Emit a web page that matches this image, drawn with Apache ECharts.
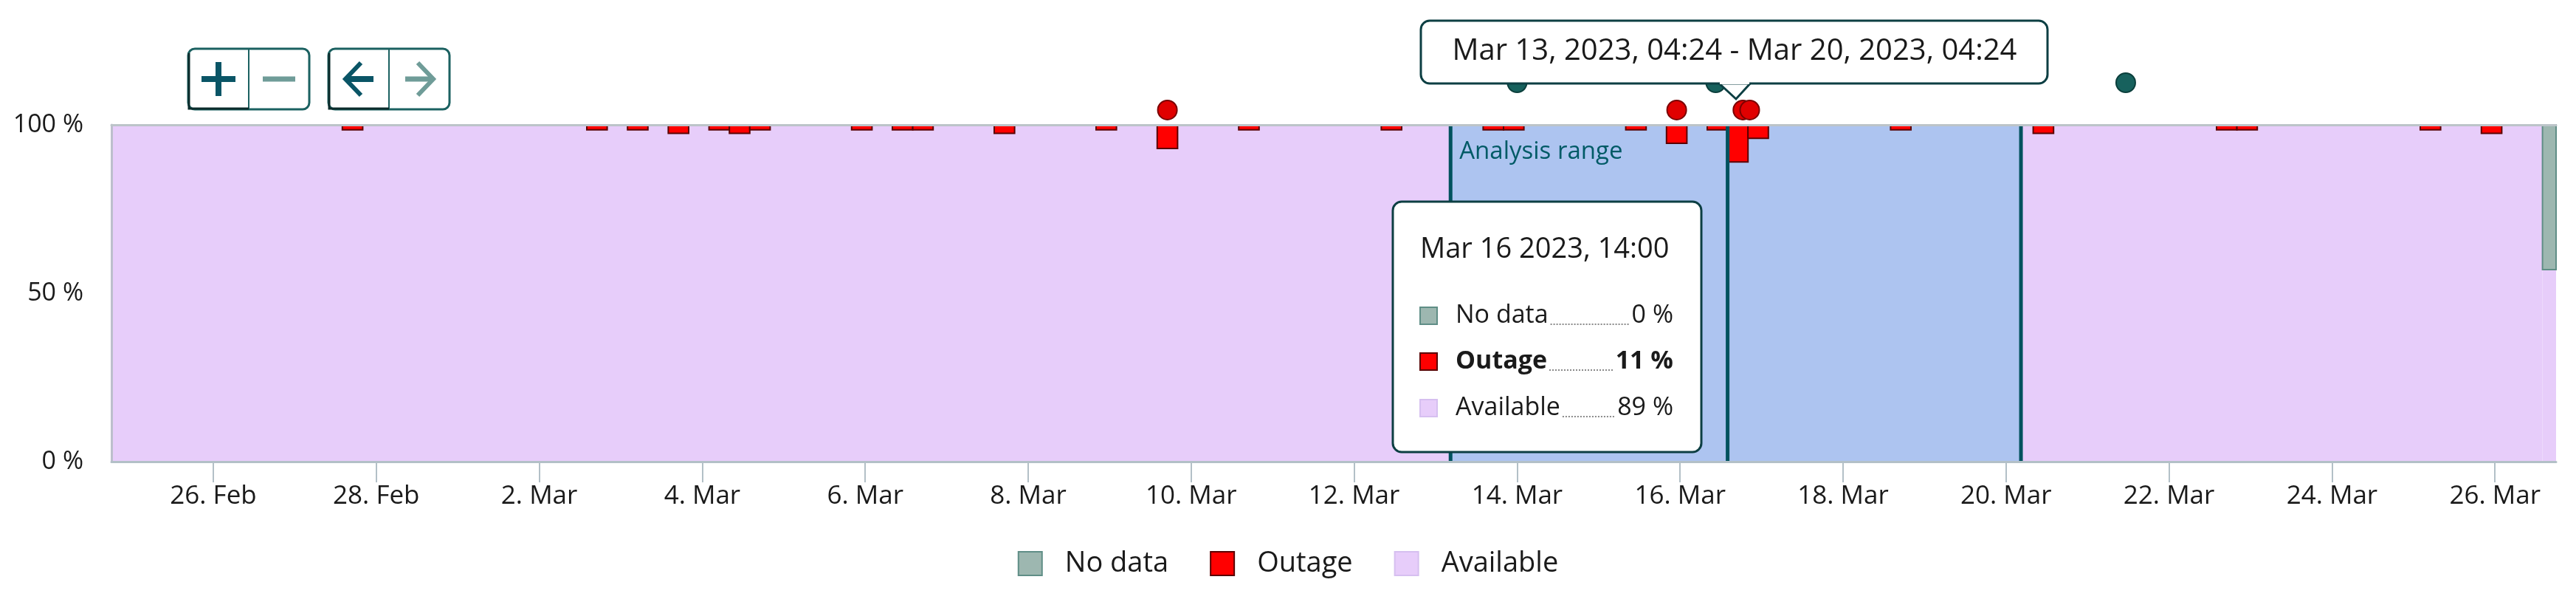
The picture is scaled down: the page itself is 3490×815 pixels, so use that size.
<!DOCTYPE html>
<html>
<head>
<meta charset="utf-8">
<script src="https://cdn.jsdelivr.net/npm/echarts@6/dist/echarts.min.js"></script>
<style>
  html, body { margin: 0; padding: 0; background: #fff; }
  #chart { width: 3490px; height: 815px; }
</style>
</head>
<body>
<div id="chart"></div>
<script>
const FONT = '"Open Sans", "Noto Sans", sans-serif'
const MONTHS = ['Jan', 'Feb', 'Mar', 'Apr', 'May', 'Jun', 'Jul', 'Aug', 'Sep', 'Oct', 'Nov', 'Dec']

const AXIS_START = '2023-02-24 18:00'
const AXIS_END = '2023-03-26 18:00'
const BUCKET_HOURS = 6

const tickDates = [
  '2023-02-26', '2023-02-28', '2023-03-02', '2023-03-04', '2023-03-06',
  '2023-03-08', '2023-03-10', '2023-03-12', '2023-03-14', '2023-03-16',
  '2023-03-18', '2023-03-20', '2023-03-22', '2023-03-24', '2023-03-26',
]
const yTicks = [0, 50, 100]

// outage per 6h bucket, % of the bucket
const outageStart = [
  '2023-02-27 14:00', '2023-03-02 14:00', '2023-03-03 02:00', '2023-03-03 14:00',
  '2023-03-04 02:00', '2023-03-04 08:00', '2023-03-04 14:00', '2023-03-05 20:00',
  '2023-03-06 08:00', '2023-03-06 14:00', '2023-03-07 14:00', '2023-03-08 20:00',
  '2023-03-09 14:00', '2023-03-10 14:00', '2023-03-12 08:00', '2023-03-13 14:00',
  '2023-03-13 20:00', '2023-03-15 08:00', '2023-03-15 20:00', '2023-03-16 08:00',
  '2023-03-16 14:00', '2023-03-16 20:00', '2023-03-18 14:00', '2023-03-20 08:00',
  '2023-03-22 14:00', '2023-03-22 20:00', '2023-03-25 02:00', '2023-03-25 20:00',
]
const outagePct = [
  1.5, 1.5, 1.5, 2.5,
  1.5, 2.5, 1.5, 1.5,
  1.5, 1.5, 2.5, 1.5,
  7, 1.5, 1.5, 1.5,
  1.5, 1.5, 5.5, 1.5,
  11, 4, 1.5, 2.5,
  1.5, 1.5, 1.5, 2.5,
]

const noDataStart = ['2023-03-26 14:00']
const noDataPct = [43]

const availableStart = ['2023-02-24 18:00', '2023-03-26 14:00']
const availableEnd = ['2023-03-26 14:00', '2023-03-26 18:00']
const availablePct = [100, 57]

// event markers above the plot
const outageEventTimes = ['2023-03-09 17:00', '2023-03-15 23:00', '2023-03-16 18:30', '2023-03-16 20:30']
const outageEventLevel = [104.4, 104.4, 104.4, 104.4]
const infoEventTimes = ['2023-03-14 00:00', '2023-03-16 10:30', '2023-03-21 11:15']
const infoEventLevel = [112.5, 112.5, 112.5]

const analysisStart = '2023-03-13 04:24'
const analysisEnd = '2023-03-20 04:24'
const hoverTime = '2023-03-16 14:00'

const tipTitle = 'Mar 16 2023, 14:00'
const tipLabels = ['No data', 'Outage', 'Available']
const tipValues = ['0 %', '11 %', '89 %']
const rangeText = 'Mar 13, 2023, 04:24 - Mar 20, 2023, 04:24'

const C = {
  available: '#e7cdfa',
  availableBorder: '#d6bff0',
  band: '#adc4f0',
  outage: '#ff0000',
  outageBorder: '#5a0000',
  noData: '#9db7b0',
  noDataBorder: '#5f8e86',
  teal: '#00525e',
  tealBox: '#0d3f43',
  iconOn: '#0a5566',
  iconOff: '#6f9c98',
  text: '#1a1a1a',
}

function ts(s) {
  if (s.length === 10) s += ' 00:00'
  return new Date(s.replace(' ', 'T') + ':00').getTime()
}

const BUCKET_MS = BUCKET_HOURS * 3600 * 1000

function clipToGrid(params, a, b) {
  const cs = params.coordSys
  return echarts.graphic.clipRectByRect(
    { x: a[0], y: a[1], width: b[0] - a[0], height: b[1] - a[1] },
    { x: cs.x, y: cs.y, width: cs.width, height: cs.height }
  )
}

function rectRenderer(fromTop, fill, stroke, lineWidth) {
  return function (params, api) {
    const v = api.value(2)
    const a = api.coord([api.value(0), fromTop ? 100 : v])
    const b = api.coord([api.value(1), fromTop ? 100 - v : 0])
    const shape = clipToGrid(params, a, b)
    if (!shape) return
    return { type: 'rect', shape, style: { fill, stroke, lineWidth } }
  }
}

function renderBand(params, api) {
  const a = api.coord([api.value(0), 100])
  const b = api.coord([api.value(1), 0])
  return {
    type: 'group',
    children: [
      { type: 'rect', shape: { x: a[0], y: a[1], width: b[0] - a[0], height: b[1] - a[1] }, style: { fill: C.band } },
      { type: 'line', shape: { x1: a[0], y1: a[1], x2: a[0], y2: b[1] }, style: { stroke: C.teal, lineWidth: 5 } },
      { type: 'line', shape: { x1: b[0], y1: a[1], x2: b[0], y2: b[1] }, style: { stroke: C.teal, lineWidth: 5 } },
      {
        type: 'text',
        style: { x: a[0] + 12, y: a[1] + 37, text: 'Analysis range', fill: '#005a66', font: '33px ' + FONT, verticalAlign: 'middle' },
      },
    ],
  }
}

function renderHover(params, api) {
  const a = api.coord([api.value(0), 100])
  const b = api.coord([api.value(0), 0])
  return { type: 'line', shape: { x1: a[0], y1: a[1], x2: b[0], y2: b[1] }, style: { stroke: C.teal, lineWidth: 5 } }
}

const outageData = outageStart.map((s, i) => [ts(s), ts(s) + BUCKET_MS, outagePct[i]])
const noDataData = noDataStart.map((s, i) => [ts(s), ts(s) + BUCKET_MS, noDataPct[i]])
const availableData = availableStart.map((s, i) => [ts(s), ts(availableEnd[i]), availablePct[i]])

// text measuring for the tooltip leaders
const measureCtx = document.createElement('canvas').getContext('2d')
function textWidth(text, font) {
  measureCtx.font = font
  return measureCtx.measureText(text).width
}

function buildTooltipGraphics() {
  const els = []
  // range tooltip at the top
  els.push({
    type: 'polygon', z: 100,
    shape: { points: [[2326, 110], [2374, 110], [2352, 134]] },
    style: { fill: '#fff', stroke: C.tealBox, lineWidth: 3 },
  })
  els.push({
    type: 'rect', z: 101,
    shape: { x: 1925, y: 28, width: 849, height: 85, r: 12 },
    style: { fill: '#fff', stroke: C.tealBox, lineWidth: 3 },
  })
  els.push({ type: 'rect', z: 102, shape: { x: 2330, y: 108, width: 40, height: 6 }, style: { fill: '#fff' } })
  els.push({
    type: 'text', z: 103,
    style: { x: 2350, y: 70, text: rangeText, font: '40px ' + FONT, fill: C.text, align: 'center', verticalAlign: 'middle' },
  })

  // point tooltip
  els.push({
    type: 'rect', z: 100,
    shape: { x: 1887, y: 273, width: 418, height: 339, r: 12 },
    style: { fill: '#fff', stroke: C.tealBox, lineWidth: 3 },
  })
  els.push({
    type: 'text', z: 101,
    style: { x: 1924, y: 338, text: tipTitle, font: '38px ' + FONT, fill: C.text, verticalAlign: 'middle' },
  })
  const rowY = [427, 489, 552]
  const swatch = [[C.noData, C.noDataBorder], [C.outage, C.outageBorder], [C.available, C.availableBorder]]
  const labelX = 1972
  const valueRight = 2267
  tipLabels.forEach((label, i) => {
    const bold = i === 1
    const font = (bold ? 'bold ' : '') + '34px ' + FONT
    els.push({
      type: 'rect', z: 101,
      shape: { x: 1924, y: rowY[i] - 11, width: 23, height: 23 },
      style: { fill: swatch[i][0], stroke: swatch[i][1], lineWidth: 2 },
    })
    els.push({
      type: 'text', z: 101,
      style: { x: labelX, y: rowY[i], text: label, font, fill: C.text, verticalAlign: 'middle' },
    })
    els.push({
      type: 'text', z: 101,
      style: { x: valueRight, y: rowY[i], text: tipValues[i], font, fill: C.text, align: 'right', verticalAlign: 'middle' },
    })
    const x1 = labelX + textWidth(label, font) + 3
    const x2 = valueRight - textWidth(tipValues[i], font) - 3
    els.push({
      type: 'line', z: 101,
      shape: { x1, y1: rowY[i] + 12, x2, y2: rowY[i] + 12 },
      style: { stroke: '#8a8a8a', lineWidth: 2, lineDash: [2, 2] },
    })
  })
  return els
}

function buildZoomButtons() {
  const els = []
  const boxes = [[255, 337], [445, 527]]
  boxes.forEach(([x, mid]) => {
    els.push({ type: 'rect', shape: { x, y: 66, width: 164, height: 82, r: 9 }, style: { fill: '#fff', stroke: '#1b6161', lineWidth: 3 } })
    els.push({ type: 'line', shape: { x1: mid, y1: 66, x2: mid, y2: 148 }, style: { stroke: '#1b6161', lineWidth: 2 } })
    // darker edge on the active half
    els.push({ type: 'polyline', shape: { points: [[x + 1, 72], [x + 1, 147], [mid, 147]] }, style: { stroke: '#0b2b2b', lineWidth: 3, fill: null } })
  })
  const on = { stroke: C.iconOn, lineWidth: 8, fill: null, lineCap: 'butt' }
  const off = { stroke: C.iconOff, lineWidth: 7, fill: null, lineCap: 'butt' }
  els.push({ type: 'line', shape: { x1: 273, y1: 107, x2: 319, y2: 107 }, style: on })
  els.push({ type: 'line', shape: { x1: 296, y1: 84, x2: 296, y2: 130 }, style: on })
  els.push({ type: 'line', shape: { x1: 356, y1: 107, x2: 400, y2: 107 }, style: off })
  els.push({ type: 'polyline', shape: { points: [[489, 85], [468, 107], [489, 129]] }, style: { ...on, lineWidth: 6 } })
  els.push({ type: 'line', shape: { x1: 470, y1: 107, x2: 506, y2: 107 }, style: on })
  els.push({ type: 'polyline', shape: { points: [[566, 85], [587, 107], [566, 129]] }, style: { ...off, lineWidth: 6 } })
  els.push({ type: 'line', shape: { x1: 549, y1: 107, x2: 585, y2: 107 }, style: off })
  return els
}

const chart = echarts.init(document.getElementById('chart'), null, { renderer: 'canvas' })

const tickValues = tickDates.map(ts)

function dateLabel(v) {
  const d = new Date(v)
  return d.getDate() + '. ' + MONTHS[d.getMonth()]
}

const option = {
  animation: false,
  grid: { left: 151, right: 27, top: 169, bottom: 190 },
  legend: {
    data: [
      { name: 'No data', itemStyle: { color: C.noData, borderColor: C.noDataBorder, borderWidth: 2 } },
      { name: 'Outage', itemStyle: { color: C.outage, borderColor: C.outageBorder, borderWidth: 2 } },
      { name: 'Available', itemStyle: { color: C.available, borderColor: C.availableBorder, borderWidth: 2 } },
    ],
    left: 'center',
    top: 744,
    padding: 0,
    icon: 'rect',
    itemWidth: 32,
    itemHeight: 32,
    itemGap: 56,
    selectedMode: false,
    textStyle: { fontSize: 38, fontFamily: FONT, color: C.text, padding: [0, 0, 0, 26] },
  },
  xAxis: [
    {
      type: 'value',
      min: ts(AXIS_START),
      max: ts(AXIS_END),
      axisLine: { lineStyle: { color: '#b3c0c7', width: 3 } },
      axisTick: { show: true, customValues: tickValues, length: 28, lineStyle: { color: '#b3c0c7', width: 2 } },
      axisLabel: {
        customValues: tickValues,
        formatter: dateLabel,
        fontSize: 35,
        fontFamily: FONT,
        color: C.text,
        margin: 30,
      },
      splitLine: { show: false },
      z: 10,
    },
    {
      type: 'value',
      position: 'top',
      min: ts(AXIS_START),
      max: ts(AXIS_END),
      axisLine: { lineStyle: { color: '#bcc4c9', width: 3 } },
      axisTick: { show: false },
      axisLabel: { show: false },
      splitLine: { show: false },
      z: 10,
    },
  ],
  yAxis: {
    type: 'value',
    min: yTicks[0],
    max: yTicks[yTicks.length - 1],
    interval: yTicks[1] - yTicks[0],
    axisLine: { show: true, lineStyle: { color: '#bcbfcc', width: 3 } },
    axisTick: { show: false },
    splitLine: { show: false },
    axisLabel: { formatter: '{value} %', fontSize: 34, fontFamily: FONT, color: C.text, margin: 38 },
    z: 10,
  },
  series: [
    {
      name: 'Available',
      type: 'custom',
      z: 2,
      itemStyle: { color: C.available },
      renderItem: rectRenderer(false, C.available, null, 0),
      encode: { x: [0, 1], y: 2 },
      data: availableData,
    },
    {
      name: 'Analysis range',
      type: 'custom',
      z: 3,
      renderItem: renderBand,
      encode: { x: [0, 1] },
      data: [[ts(analysisStart), ts(analysisEnd)]],
    },
    {
      name: 'Outage',
      type: 'custom',
      z: 4,
      itemStyle: { color: C.outage },
      renderItem: rectRenderer(true, C.outage, C.outageBorder, 2),
      encode: { x: [0, 1], y: 2 },
      data: outageData,
    },
    {
      name: 'No data',
      type: 'custom',
      z: 4,
      itemStyle: { color: C.noData },
      renderItem: rectRenderer(true, C.noData, C.noDataBorder, 2),
      encode: { x: [0, 1], y: 2 },
      data: noDataData,
    },
    {
      name: 'Hover',
      type: 'custom',
      z: 5,
      renderItem: renderHover,
      encode: { x: 0 },
      data: [[ts(hoverTime)]],
    },
    {
      name: 'Outage events',
      type: 'scatter',
      z: 6,
      clip: false,
      symbol: 'circle',
      symbolSize: 26,
      itemStyle: { color: '#e00000', borderColor: '#7a0000', borderWidth: 2, opacity: 1 },
      data: outageEventTimes.map((t, i) => [ts(t), outageEventLevel[i]]),
    },
    {
      name: 'Info events',
      type: 'scatter',
      z: 6,
      clip: false,
      symbol: 'circle',
      symbolSize: 26,
      itemStyle: { color: '#17615d', borderColor: '#0b3f3c', borderWidth: 2, opacity: 1 },
      data: infoEventTimes.map((t, i) => [ts(t), infoEventLevel[i]]),
    },
  ],
  graphic: buildZoomButtons().concat(buildTooltipGraphics()),
}

chart.setOption(option)
</script>
</body>
</html>
